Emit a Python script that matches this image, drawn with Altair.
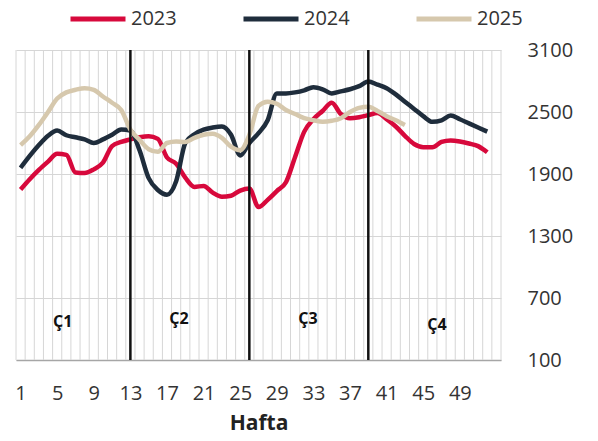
import altair as alt
import pandas as pd

# ---- data ----
weeks = list(range(1, 53))
values_2023 = [1750, 1850, 1940, 2020, 2095, 2085, 1915, 1910, 1945, 2010,
               2170, 2210, 2235, 2255, 2265, 2240, 2060, 2000, 1865, 1775,
               1785, 1720, 1680, 1690, 1740, 1760, 1580, 1650, 1735, 1820,
               2065, 2310, 2430, 2510, 2590, 2480, 2440, 2450, 2470, 2490,
               2430, 2360, 2270, 2190, 2160, 2160, 2210, 2225, 2215, 2195,
               2170, 2110]
values_2024 = [1960, 2075, 2180, 2270, 2320, 2275, 2255, 2235, 2200, 2235,
               2280, 2330, 2320, 2130, 1860, 1745, 1700, 1830, 2200, 2285,
               2330, 2350, 2360, 2280, 2080, 2200, 2295, 2420, 2680, 2680,
               2690, 2710, 2740, 2720, 2680, 2700, 2720, 2750, 2795, 2765,
               2730, 2670, 2600, 2530, 2460, 2405, 2420, 2465, 2430, 2390,
               2350, 2310]
weeks_2025 = list(range(1, 44))
values_2025 = [2180, 2265, 2375, 2500, 2630, 2690, 2715, 2730, 2715, 2650,
               2590, 2520, 2330, 2230, 2140, 2115, 2200, 2215, 2210, 2250,
               2280, 2290, 2250, 2165, 2130, 2280, 2560, 2600, 2580, 2520,
               2480, 2440, 2420, 2405, 2415, 2440, 2500, 2540, 2550, 2510,
               2460, 2420, 2375]

series_names = ["2023", "2024", "2025"]
series_colors = ["#d7093c", "#1f2d3c", "#d6c8ad"]

quarter_bounds = [13, 26, 39]
quarter_labels = ["Ç1", "Ç2", "Ç3", "Ç4"]
quarter_label_week = [5.6, 18.3, 32.4, 46.5]
quarter_label_value = [470, 500, 500, 440]

y_ticks = [100, 700, 1300, 1900, 2500, 3100]
x_ticks = [1, 5, 9, 13, 17, 21, 25, 29, 33, 37, 41, 45, 49]
grid_weeks = [w + 0.5 for w in range(0, 54)]

# ---- tables ----
rows = []
for wk, v in zip(weeks, values_2023):
    rows.append({"week": wk, "value": v, "year": "2023"})
for wk, v in zip(weeks, values_2024):
    rows.append({"week": wk, "value": v, "year": "2024"})
for wk, v in zip(weeks_2025, values_2025):
    rows.append({"week": wk, "value": v, "year": "2025"})
df = pd.DataFrame(rows)

grid_df = pd.DataFrame({"week": grid_weeks})
qb_df = pd.DataFrame({"week": quarter_bounds})
ql_df = pd.DataFrame({"label": quarter_labels, "week": quarter_label_week,
                      "value": quarter_label_value})

FONT = "Open Sans"
xscale = alt.Scale(domain=[0.5, 53.5], nice=False, zero=False)
yscale = alt.Scale(domain=[100, 3100], nice=False, zero=False)

x_axis = alt.Axis(values=x_ticks, grid=False, ticks=False, domain=True,
                  domainColor="#a6a6a6", domainWidth=1.5,
                  labelFontSize=20, labelFont=FONT, labelColor="#333333",
                  labelPadding=23, labelFlush=False,
                  title="Hafta", titleFont=FONT, titleFontSize=21,
                  titleFontWeight="bold", titleColor="#222222",
                  titlePadding=9)

grid = alt.Chart(grid_df).mark_rule(color="#d6d6d6", strokeWidth=1).encode(
    x=alt.X("week:Q", scale=xscale, axis=x_axis)
)

lines = alt.Chart(df).mark_line(interpolate="monotone", strokeWidth=4.5).encode(
    x=alt.X("week:Q", scale=xscale),
    y=alt.Y("value:Q", scale=yscale,
            axis=alt.Axis(orient="right", values=y_ticks, format="d", grid=True,
                          gridColor="#d6d6d6", gridWidth=1, ticks=False,
                          domain=False, labelFontSize=20, labelFont=FONT,
                          labelColor="#333333", labelPadding=26, title=None)),
    color=alt.Color("year:N",
                    scale=alt.Scale(domain=series_names, range=series_colors),
                    legend=alt.Legend(orient="none", legendX=52, legendY=-61,
                                      direction="horizontal", title=None,
                                      symbolType="stroke", symbolSize=3025,
                                      symbolStrokeWidth=5, labelFontSize=20,
                                      labelFont=FONT, labelColor="#333333",
                                      labelOffset=3, columnPadding=56)),
    order=alt.Order("week:Q"),
)

qrules = alt.Chart(qb_df).mark_rule(color="#111111", strokeWidth=2.5).encode(
    x=alt.X("week:Q", scale=xscale)
)

qtext = alt.Chart(ql_df).mark_text(font=FONT, fontSize=16, fontWeight="bold",
                                   color="#111111").encode(
    x=alt.X("week:Q", scale=xscale),
    y=alt.Y("value:Q", scale=yscale),
    text="label:N",
)

chart = alt.layer(grid, lines, qrules, qtext).properties(
    width=485, height=310,
    autosize=alt.AutoSizeParams(type="none"),
    padding={"left": 16, "top": 50, "right": 97, "bottom": 81},
    background="white",
).configure_view(stroke=None)

chart.save("out.html", embed_options={"renderer": "svg", "actions": False})
